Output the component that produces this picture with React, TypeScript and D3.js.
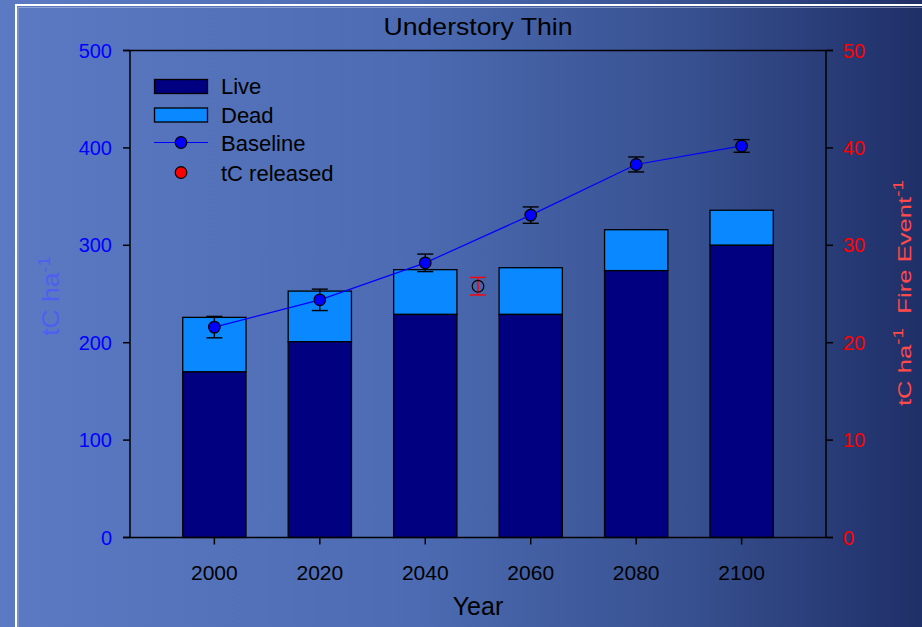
import React from 'react';
import * as d3 from 'd3';

// values
const years = [2000, 2020, 2040, 2060, 2080, 2100];
const liveValues = [170, 201, 229, 229, 274, 300];
const totalValues = [226, 253, 275, 277, 316, 336];
const baselineValues = [216, 244, 282, 331, 383, 402];
const baselineErr = [11, 11, 9, 8.4, 7.7, 6.5];
const releasedYears = [2050];
const releasedValues = [25.8];
const releasedErr = [0.9];
const leftTicks = [0, 100, 200, 300, 400, 500];
const rightTicks = [0, 10, 20, 30, 40, 50];
const xTicks = [2000, 2020, 2040, 2060, 2080, 2100];

const W = 922;
const H = 627;
const font = '"Liberation Sans", Arial, sans-serif';

const App: React.FC = () => {
  const m = { left: 130, right: 826, top: 50.5, bottom: 537.5 };
  const x = d3.scaleLinear().domain([1984, 2116]).range([m.left, m.right]);
  const y = d3.scaleLinear().domain([0, 500]).range([m.bottom, m.top]);
  const y2 = d3.scaleLinear().domain([0, 50]).range([m.bottom, m.top]);
  const barW = x(2012) - x(2000);

  const line = d3
    .line<number>()
    .x((_, i) => x(years[i]))
    .y(d => y(d));

  const cap = 8;

  return (
    <svg width={W} height={H} style={{ position: 'absolute', left: 0, top: 0 }}>
      <defs>
        <linearGradient id="bg" x1="0" y1="0" x2="1" y2="0">
          <stop offset="0%" stopColor="#5b7ac3" />
          <stop offset="45%" stopColor="#4c6bb2" />
          <stop offset="75%" stopColor="#37508f" />
          <stop offset="100%" stopColor="#1f2f68" />
        </linearGradient>
      </defs>
      <rect x={0} y={0} width={W} height={H} fill="url(#bg)" />
      {/* slide frame */}
      <path d={`M16,${H + 5} V5 H${W + 5}`} fill="none" stroke="#ffffff" strokeWidth={2} />
      <path d={`M18,${H + 5} V7.5 H${W + 5}`} fill="none" stroke="#c8d2ea" strokeWidth={0.8} opacity={0.6} />

      <text
        x={478}
        y={35}
        textAnchor="middle"
        fontFamily={font}
        fontSize={24}
        fill="#000"
        textLength={189}
        lengthAdjust="spacingAndGlyphs"
      >
        Understory Thin
      </text>

      {/* bars */}
      {years.map((yr, i) => (
        <g key={yr}>
          <rect
            x={x(yr) - barW / 2}
            y={y(totalValues[i])}
            width={barW}
            height={y(liveValues[i]) - y(totalValues[i])}
            fill="#0a88ff"
            stroke="#000"
            strokeWidth={1.3}
          />
          <rect
            x={x(yr) - barW / 2}
            y={y(liveValues[i])}
            width={barW}
            height={y(0) - y(liveValues[i])}
            fill="#000080"
            stroke="#000"
            strokeWidth={1.3}
          />
        </g>
      ))}

      {/* baseline */}
      <path d={line(baselineValues) || ''} fill="none" stroke="#0000ff" strokeWidth={1.2} />
      {years.map((yr, i) => {
        const cx = x(yr);
        const hi = y(baselineValues[i] + baselineErr[i]);
        const lo = y(baselineValues[i] - baselineErr[i]);
        return (
          <g key={'b' + yr} stroke="#000" strokeWidth={1.4}>
            <line x1={cx} x2={cx} y1={hi} y2={lo} />
            <line x1={cx - cap} x2={cx + cap} y1={hi} y2={hi} />
            <line x1={cx - cap} x2={cx + cap} y1={lo} y2={lo} />
            <circle cx={cx} cy={y(baselineValues[i])} r={5.8} fill="#0000ff" strokeWidth={1.2} />
          </g>
        );
      })}

      {/* tC released */}
      {releasedYears.map((yr, i) => {
        const cx = x(yr);
        const hi = y2(releasedValues[i] + releasedErr[i]);
        const lo = y2(releasedValues[i] - releasedErr[i]);
        return (
          <g key={'r' + yr}>
            <g stroke="#ff0000" strokeWidth={1.4}>
              <line x1={cx} x2={cx} y1={hi} y2={lo} />
              <line x1={cx - cap} x2={cx + cap} y1={hi} y2={hi} />
              <line x1={cx - cap} x2={cx + cap} y1={lo} y2={lo} />
            </g>
            <circle cx={cx} cy={y2(releasedValues[i])} r={5.8} fill="none" stroke="#000" strokeWidth={1.2} />
          </g>
        );
      })}

      {/* axes */}
      <g stroke="#000" strokeWidth={1.5} fill="none">
        <line x1={m.left - 7} x2={m.right + 7} y1={m.bottom} y2={m.bottom} />
        <line x1={m.left - 7} x2={m.right + 7} y1={m.top} y2={m.top} />
        <line x1={m.left} x2={m.left} y1={m.top} y2={m.bottom} />
        <line x1={m.right} x2={m.right} y1={m.top} y2={m.bottom} />
        {leftTicks.map(t => (
          <line key={'lt' + t} x1={m.left - 7} x2={m.left} y1={y(t)} y2={y(t)} />
        ))}
        {rightTicks.map(t => (
          <line key={'rt' + t} x1={m.right} x2={m.right + 7} y1={y2(t)} y2={y2(t)} />
        ))}
        {xTicks.map(t => (
          <line key={'xt' + t} x1={x(t)} x2={x(t)} y1={m.bottom} y2={m.bottom + 7} />
        ))}
      </g>
      {leftTicks.map(t => (
        <text key={'ll' + t} x={112} y={y(t) + 7} textAnchor="end" fontFamily={font} fontSize={20} fill="#0000ff">
          {t}
        </text>
      ))}
      {rightTicks.map(t => (
        <text key={'rl' + t} x={843} y={y2(t) + 7} textAnchor="start" fontFamily={font} fontSize={20} fill="#ff0000">
          {t}
        </text>
      ))}
      {xTicks.map(t => (
        <text key={'xl' + t} x={x(t)} y={580} textAnchor="middle" fontFamily={font} fontSize={21} fill="#000">
          {t}
        </text>
      ))}
      <text x={478} y={615} textAnchor="middle" fontFamily={font} fontSize={25} fill="#000">
        Year
      </text>

      {/* axis titles */}
      <text
        transform="translate(59,296) rotate(-90) scale(1.15,1)"
        textAnchor="middle"
        fontFamily={font}
        fontSize={23}
        fill="#4f5ef0"
      >
        tC ha<tspan dy={-9} fontSize={16}>-1</tspan>
      </text>
      <text
        transform="translate(911,293) rotate(-90) scale(1.35,1)"
        textAnchor="middle"
        fontFamily={font}
        fontSize={19}
        fill="#ff4a4a"
      >
        tC ha<tspan dy={-8} fontSize={14}>-1</tspan>
        <tspan dy={8}>{'\u00a0\u00a0Fire Event'}</tspan>
        <tspan dy={-8} fontSize={14}>-1</tspan>
      </text>

      {/* legend */}
      <g fontFamily={font} fontSize={22} fill="#000">
        <rect x={154.5} y={79.5} width={53} height={14} fill="#000080" stroke="#000" strokeWidth={1.3} />
        <text x={221} y={94}>Live</text>
        <rect x={154.5} y={108} width={53} height={14} fill="#0a88ff" stroke="#000" strokeWidth={1.3} />
        <text x={221} y={122.5}>Dead</text>
        <line x1={154} x2={208} y1={142.5} y2={142.5} stroke="#0000ff" strokeWidth={1.2} />
        <circle cx={181} cy={142.5} r={5.8} fill="#0000ff" stroke="#000" strokeWidth={1.2} />
        <text x={221} y={151}>Baseline</text>
        <circle cx={181} cy={172.5} r={5.8} fill="#ff0000" stroke="#000" strokeWidth={1.2} />
        <text x={221} y={180.5}>tC released</text>
      </g>
    </svg>
  );
};

export default App;
